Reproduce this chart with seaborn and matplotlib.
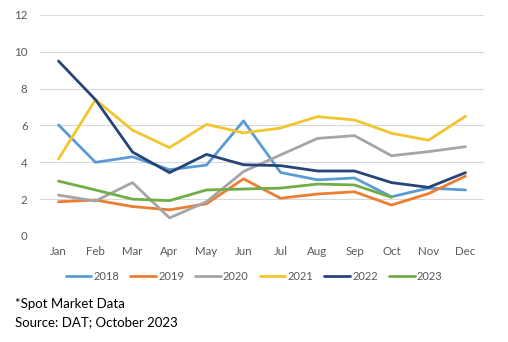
import matplotlib
matplotlib.use("Agg")
import matplotlib.pyplot as plt
import seaborn as sns
import pandas as pd

months = ["Jan", "Feb", "Mar", "Apr", "May", "Jun", "Jul", "Aug", "Sep", "Oct", "Nov", "Dec"]
y2018 = [6.03, 4.0, 4.3, 3.6, 3.85, 6.25, 3.45, 3.05, 3.15, 2.13, 2.6, 2.5]
y2019 = [1.86, 1.95, 1.6, 1.42, 1.75, 3.1, 2.05, 2.28, 2.4, 1.68, 2.3, 3.25]
y2020 = [2.22, 1.9, 2.9, 0.98, 1.86, 3.5, 4.4, 5.3, 5.45, 4.36, 4.58, 4.85]
y2021 = [4.18, 7.4, 5.75, 4.8, 6.06, 5.6, 5.86, 6.48, 6.3, 5.58, 5.2, 6.5]
y2022 = [9.5, 7.4, 4.56, 3.44, 4.43, 3.87, 3.82, 3.53, 3.53, 2.9, 2.64, 3.44]
y2023 = [2.98, 2.5, 2.0, 1.92, 2.5, 2.55, 2.6, 2.82, 2.77, 2.1, None, None]

series = {"2018": y2018, "2019": y2019, "2020": y2020,
          "2021": y2021, "2022": y2022, "2023": y2023}
palette = {"2018": "#5B9BD5", "2019": "#ED7D31", "2020": "#A5A5A5",
           "2021": "#F2C52E", "2022": "#264478", "2023": "#70AD47"}

rows = []
for year, vals in series.items():
    for i, v in enumerate(vals):
        if v is not None:
            rows.append({"month": i, "value": v, "year": year})
df = pd.DataFrame(rows)

sns.set_theme(style="white")
plt.rcParams["font.family"] = ["Lato", "DejaVu Sans"]

fig = plt.figure(figsize=(5.08, 3.42), dpi=100)
ax = fig.add_axes([40 / 508, 1 - 236 / 342, 444 / 508, 221 / 342])

sns.lineplot(data=df, x="month", y="value", hue="year", palette=palette,
             linewidth=2.0, ax=ax, legend=False, sort=False)

ax.set_xlim(-0.5, 11.5)
ax.set_ylim(0, 12)
ax.set_yticks(range(0, 13, 2))
ax.set_xticks(range(12))
ax.set_xticklabels(months)
ax.set_xlabel("")
ax.set_ylabel("")
ax.grid(axis="y", color="#D9D9D9", linewidth=0.8)
ax.set_axisbelow(True)
for s in ax.spines.values():
    s.set_visible(False)
ax.tick_params(axis="both", length=0, labelsize=8.3, colors="#595959")
ax.tick_params(axis="x", pad=7)
ax.tick_params(axis="y", pad=9)

handles = [plt.Line2D([], [], color=palette[y], linewidth=2.0) for y in series]
fig.legend(handles, list(series.keys()), loc="center", bbox_to_anchor=(254 / 508, 1 - 276 / 342),
           ncol=6, frameon=False, fontsize=8.0, handlelength=2.3, handletextpad=0.2,
           columnspacing=1.0, labelcolor="#595959")

fig.text(15 / 508, 1 - 304 / 342, "*Spot Market Data", fontsize=9.5, color="#000000", va="center")
fig.text(15 / 508, 1 - 322 / 342, "Source: DAT; October 2023", fontsize=9.5, color="#000000", va="center")

fig.savefig("out.png", dpi=100)
